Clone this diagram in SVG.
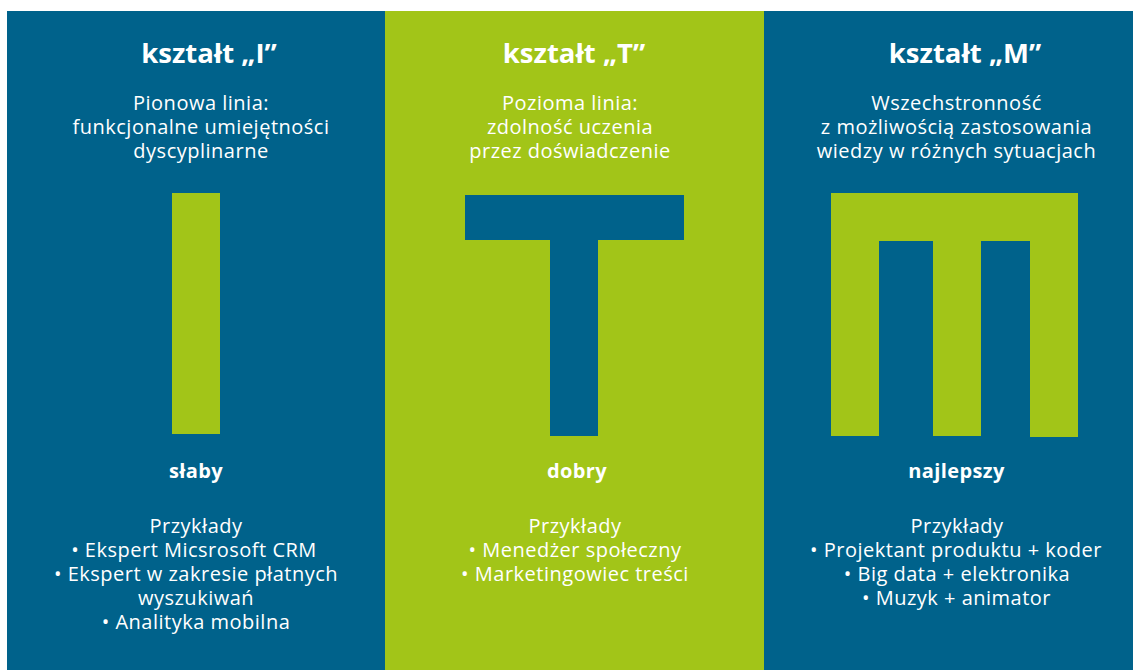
<svg xmlns="http://www.w3.org/2000/svg" width="1133" height="670" viewBox="0 0 1133 670">
<style>
.blue{fill:#00628B}
.green{fill:#A2C518}
text{fill:#FFFFFF;font-family:"Open Sans","Noto Sans","DejaVu Sans",sans-serif;text-anchor:middle}
.t{font-size:27.5px;font-weight:700}
.b{font-size:20px;letter-spacing:0.5px}
.lvl{font-size:20px;font-weight:700;letter-spacing:0.4px}
</style>
<rect x="0" y="0" width="1133" height="670" fill="#FFFFFF"/>
<g id="panel-I">
<rect class="blue" x="7" y="11" width="378" height="659"/>
<text class="t" x="209" y="63">kształt „I”</text>
<text class="b"><tspan x="201" y="110">Pionowa linia:</tspan><tspan x="201" y="134">funkcjonalne umiejętności</tspan><tspan x="201" y="158">dyscyplinarne</tspan></text>
<rect class="green" x="172" y="193" width="48" height="241"/>
<text class="lvl" x="196" y="478">słaby</text>
<text class="b"><tspan x="196" y="533">Przykłady</tspan><tspan x="194" y="557">• Ekspert Micsrosoft CRM</tspan><tspan x="196" y="581">• Ekspert w zakresie płatnych</tspan><tspan x="196" y="605">wyszukiwań</tspan><tspan x="196" y="629">• Analityka mobilna</tspan></text>
</g>
<g id="panel-T">
<rect class="green" x="385" y="11" width="379" height="659"/>
<text class="t" x="574" y="63">kształt „T”</text>
<text class="b"><tspan x="570" y="110">Pozioma linia:</tspan><tspan x="570" y="134">zdolność uczenia</tspan><tspan x="570" y="158">przez doświadczenie</tspan></text>
<path class="blue" d="M465 195H684V240H598V436H550V240H465Z"/>
<text class="lvl" x="577" y="478">dobry</text>
<text class="b"><tspan x="575" y="533">Przykłady</tspan><tspan x="575" y="557">• Menedżer społeczny</tspan><tspan x="575" y="581">• Marketingowiec treści</tspan></text>
</g>
<g id="panel-M">
<rect class="blue" x="764" y="11" width="369" height="659"/>
<text class="t" x="965" y="63">kształt „M”</text>
<text class="b"><tspan x="956.5" y="110">Wszechstronność</tspan><tspan x="956.5" y="134">z możliwością zastosowania</tspan><tspan x="956.5" y="158">wiedzy w różnych sytuacjach</tspan></text>
<path class="green" d="M831 193H1078V437H1030V241H981V436H933V241H879V436H831Z"/>
<text class="lvl" x="956.5" y="478">najlepszy</text>
<text class="b"><tspan x="957" y="533">Przykłady</tspan><tspan x="956" y="557">• Projektant produktu + koder</tspan><tspan x="957" y="581">• Big data + elektronika</tspan><tspan x="956.5" y="605">• Muzyk + animator</tspan></text>
</g>
</svg>
